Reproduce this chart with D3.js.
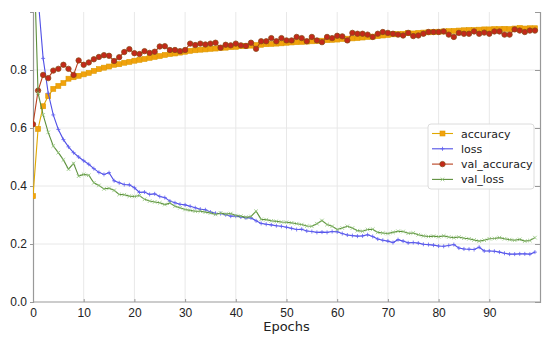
<!DOCTYPE html>
<html>
<head>
<meta charset="utf-8">
<script src="https://cdn.jsdelivr.net/npm/d3@7"></script>
<style>
  body { margin: 0; background: #fff; }
  svg { display: block; font-family: "DejaVu Sans", sans-serif; }
</style>
</head>
<body>
<div id="chart"></div>
<script>
const epochs = d3.range(0, 100);

const accuracy = [
  0.365, 0.597, 0.675, 0.710, 0.735, 0.745, 0.755, 0.770, 0.775, 0.780,
  0.785, 0.790, 0.797, 0.803, 0.808, 0.812, 0.818, 0.820, 0.825, 0.828,
  0.832, 0.835, 0.838, 0.842, 0.845, 0.848, 0.852, 0.855, 0.857, 0.860,
  0.863, 0.866, 0.868, 0.870, 0.871, 0.873, 0.874, 0.876, 0.877, 0.879,
  0.880, 0.882, 0.883, 0.884, 0.886, 0.887, 0.889, 0.890, 0.891, 0.892,
  0.894, 0.895, 0.896, 0.897, 0.898, 0.899, 0.900, 0.901, 0.903, 0.904,
  0.905, 0.907, 0.908, 0.909, 0.910, 0.912, 0.914, 0.915, 0.917, 0.919,
  0.921, 0.923, 0.924, 0.925, 0.927, 0.926, 0.928, 0.929, 0.930, 0.931,
  0.932, 0.933, 0.934, 0.935, 0.936, 0.937, 0.938, 0.938, 0.939, 0.940,
  0.940, 0.941, 0.941, 0.942, 0.941, 0.943, 0.945, 0.943, 0.944, 0.944
];

const loss = [
  1.600, 1.050, 0.840, 0.720, 0.645, 0.595, 0.560, 0.535, 0.515, 0.500,
  0.487, 0.475, 0.460, 0.447, 0.440, 0.446, 0.418, 0.411, 0.405, 0.404,
  0.394, 0.378, 0.379, 0.371, 0.373, 0.364, 0.360, 0.348, 0.342, 0.337,
  0.335, 0.330, 0.325, 0.320, 0.318, 0.310, 0.306, 0.305, 0.301, 0.296,
  0.296, 0.293, 0.290, 0.290, 0.280, 0.271, 0.268, 0.266, 0.263, 0.261,
  0.258, 0.254, 0.250, 0.251, 0.245, 0.243, 0.240, 0.241, 0.240, 0.243,
  0.242, 0.236, 0.231, 0.229, 0.227, 0.228, 0.232, 0.226, 0.217, 0.213,
  0.210, 0.205, 0.215, 0.210, 0.204, 0.205, 0.203, 0.199, 0.198, 0.196,
  0.193, 0.192, 0.195, 0.198, 0.186, 0.183, 0.182, 0.181, 0.189, 0.176,
  0.176, 0.175, 0.172, 0.168, 0.165, 0.165, 0.166, 0.166, 0.165, 0.172
];

const valAccuracy = [
  0.613, 0.729, 0.783, 0.772, 0.798, 0.804, 0.818, 0.804, 0.783, 0.833,
  0.818, 0.826, 0.837, 0.845, 0.851, 0.849, 0.831, 0.844, 0.862, 0.872,
  0.858, 0.855, 0.865, 0.859, 0.863, 0.881, 0.882, 0.869, 0.869, 0.865,
  0.869, 0.891, 0.886, 0.891, 0.888, 0.891, 0.894, 0.877, 0.887, 0.885,
  0.891, 0.885, 0.883, 0.894, 0.873, 0.899, 0.899, 0.910, 0.899, 0.910,
  0.902, 0.902, 0.914, 0.910, 0.899, 0.914, 0.902, 0.896, 0.914, 0.910,
  0.918, 0.916, 0.902, 0.928, 0.925, 0.925, 0.922, 0.914, 0.925, 0.931,
  0.928, 0.925, 0.922, 0.919, 0.928, 0.917, 0.919, 0.925, 0.931, 0.931,
  0.931, 0.933, 0.922, 0.914, 0.928, 0.925, 0.925, 0.933, 0.925, 0.929,
  0.925, 0.933, 0.933, 0.922, 0.922, 0.940, 0.936, 0.931, 0.936, 0.936
];

const valLoss = [
  1.300, 0.720, 0.645, 0.585, 0.538, 0.515, 0.490, 0.458, 0.478, 0.434,
  0.440, 0.437, 0.411, 0.402, 0.390, 0.392, 0.385, 0.371, 0.370, 0.365,
  0.364, 0.367, 0.354, 0.348, 0.345, 0.342, 0.336, 0.341, 0.330, 0.325,
  0.319, 0.316, 0.313, 0.313, 0.310, 0.307, 0.302, 0.307, 0.303, 0.305,
  0.298, 0.296, 0.292, 0.295, 0.313, 0.285, 0.284, 0.280, 0.278, 0.276,
  0.275, 0.273, 0.270, 0.267, 0.262, 0.261, 0.270, 0.281, 0.267, 0.261,
  0.250, 0.255, 0.261, 0.255, 0.246, 0.244, 0.250, 0.251, 0.240, 0.238,
  0.236, 0.240, 0.244, 0.243, 0.237, 0.238, 0.232, 0.228, 0.226, 0.227,
  0.225, 0.228, 0.224, 0.222, 0.224, 0.220, 0.218, 0.214, 0.210, 0.213,
  0.218, 0.219, 0.222, 0.218, 0.215, 0.213, 0.216, 0.210, 0.212, 0.222
];

const xTicks = [0, 10, 20, 30, 40, 50, 60, 70, 80, 90];
const yTicks = [0.0, 0.2, 0.4, 0.6, 0.8];

const width = 550;
const height = 339;
const plot = { left: 33, right: 540, top: 12, bottom: 302 };

const series = [
  { name: 'accuracy', values: accuracy, line: '#e0a800', fill: '#f2a20c', stroke: '#dc9a00', marker: 'square' },
  { name: 'loss', values: loss, line: '#5050e6', fill: 'none', stroke: '#6060f0', marker: 'plus' },
  { name: 'val_accuracy', values: valAccuracy, line: '#b8401e', fill: '#c4281a', stroke: '#8c4a18', marker: 'circle' },
  { name: 'val_loss', values: valLoss, line: '#5d8f3c', fill: 'none', stroke: '#90c478', marker: 'cross' }
];

const svg = d3.select('#chart')
  .append('svg')
  .attr('width', width)
  .attr('height', height);

const x = d3.scaleLinear().domain([0, 100]).range([plot.left, plot.right]);
const y = d3.scaleLinear().domain([0, 1]).range([plot.bottom, plot.top]);

svg.append('clipPath')
  .attr('id', 'clip')
  .append('rect')
  .attr('x', plot.left)
  .attr('y', plot.top)
  .attr('width', plot.right - plot.left)
  .attr('height', plot.bottom - plot.top);

// grid
svg.append('g')
  .selectAll('line')
  .data(xTicks.slice(1))
  .join('line')
  .attr('x1', d => x(d)).attr('x2', d => x(d))
  .attr('y1', plot.top).attr('y2', plot.bottom)
  .attr('stroke', '#e8e8e8');
svg.append('g')
  .selectAll('line')
  .data(yTicks.slice(1))
  .join('line')
  .attr('x1', plot.left).attr('x2', plot.right)
  .attr('y1', d => y(d)).attr('y2', d => y(d))
  .attr('stroke', '#e8e8e8');

// axes
const xAxis = svg.append('g')
  .attr('transform', `translate(0,${plot.bottom})`)
  .call(d3.axisBottom(x).tickValues(xTicks).tickSize(-3).tickPadding(6).tickFormat(d3.format('d')));
const yAxis = svg.append('g')
  .attr('transform', `translate(${plot.left},0)`)
  .call(d3.axisLeft(y).tickValues(yTicks).tickSize(3).tickPadding(3).tickFormat(d3.format('.1f')));
const yRight = svg.append('g')
  .attr('transform', `translate(${plot.right},0)`)
  .call(d3.axisLeft(y).tickValues(yTicks).tickSize(5).tickFormat(''));

[xAxis, yAxis, yRight].forEach(a => {
  a.select('.domain').attr('stroke', '#999').attr('stroke-width', 1.2);
  a.selectAll('.tick line').attr('stroke', '#999');
  a.selectAll('.tick text').attr('fill', '#222').style('font-size', '12px');
});
xAxis.select('.domain').attr('d', `M${plot.left},0H${plot.right}`);

svg.append('text')
  .attr('x', (plot.left + plot.right) / 2)
  .attr('y', 331)
  .attr('text-anchor', 'middle')
  .attr('fill', '#222')
  .style('font-size', '13px')
  .text('Epochs');

// markers
function drawMarker(g, type, fill, stroke) {
  if (type === 'square') {
    g.append('rect').attr('x', -2.5).attr('y', -2.5).attr('width', 5).attr('height', 5)
      .attr('fill', fill).attr('stroke', stroke).attr('stroke-width', 0.6);
  } else if (type === 'circle') {
    g.append('circle').attr('r', 2.7)
      .attr('fill', fill).attr('stroke', stroke).attr('stroke-width', 0.8);
  } else if (type === 'plus') {
    g.append('path').attr('d', 'M-2,0H2M0,-2V2')
      .attr('stroke', stroke).attr('stroke-width', 0.8);
  } else {
    g.append('path').attr('d', 'M-1.8,-1.8L1.8,1.8M-1.8,1.8L1.8,-1.8')
      .attr('stroke', stroke).attr('stroke-width', 0.8);
  }
}

const plotArea = svg.append('g').attr('clip-path', 'url(#clip)');

series.forEach(s => {
  const line = d3.line()
    .x((d, i) => x(epochs[i]))
    .y(d => y(d));
  plotArea.append('path')
    .datum(s.values)
    .attr('fill', 'none')
    .attr('stroke', s.line)
    .attr('stroke-width', 1.1)
    .attr('d', line);
  plotArea.append('g')
    .selectAll('g')
    .data(s.values)
    .join('g')
    .attr('transform', (d, i) => `translate(${x(epochs[i])},${y(d)})`)
    .each(function () { drawMarker(d3.select(this), s.marker, s.fill, s.stroke); });
});

// legend
const legend = svg.append('g').attr('transform', 'translate(428,124)');
legend.append('rect')
  .attr('width', 106).attr('height', 65).attr('rx', 3)
  .attr('fill', '#fff').attr('fill-opacity', 0.9)
  .attr('stroke', '#dcdcdc');
series.forEach((s, i) => {
  const row = legend.append('g').attr('transform', `translate(0,${9.5 + i * 15.3})`);
  row.append('line').attr('x1', 4).attr('x2', 25).attr('stroke', s.line).attr('stroke-width', 1.1);
  drawMarker(row.append('g').attr('transform', 'translate(14.5,0)'), s.marker, s.fill, s.stroke);
  row.append('text')
    .attr('x', 33).attr('y', 4)
    .attr('fill', '#222')
    .style('font-size', '11px')
    .text(s.name);
});
</script>
</body>
</html>
